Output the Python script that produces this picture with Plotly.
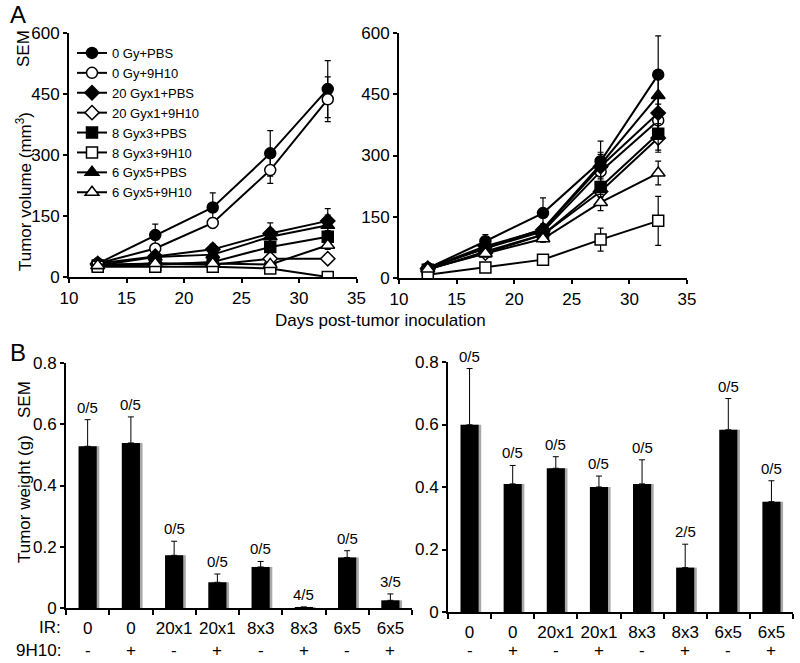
import plotly.graph_objects as go

# ---------------- data ----------------
days = [12.5, 17.5, 22.5, 27.5, 32.5]
group_names = ["0 Gy+PBS", "0 Gy+9H10", "20 Gyx1+PBS", "20 Gyx1+9H10",
               "8 Gyx3+PBS", "8 Gyx3+9H10", "6 Gyx5+PBS", "6 Gyx5+9H10"]
group_symbols = ["circle", "circle", "diamond", "diamond",
                 "square", "square", "triangle-up", "triangle-up"]
group_filled = [True, False, True, False, True, False, True, False]

# left growth panel (tumor volume, mm3) and SEM
L_0_PBS = [33, 103, 171, 304, 462]
L_0_9H10 = [33, 70, 133, 263, 437]
L_20x1_PBS = [33, 51, 68, 107, 138]
L_20x1_9H10 = [30, 33, 30, 45, 45]
L_8x3_PBS = [28, 30, 37, 74, 99]
L_8x3_9H10 = [25, 25, 25, 21, 0]
L_6x5_PBS = [28, 49, 55, 99, 127]
L_6x5_9H10 = [28, 33, 33, 31, 78]
Ls_0_PBS = [0, 27, 36, 56, 70]
Ls_0_9H10 = [0, 10, 12, 33, 55]
Ls_20x1_PBS = [0, 8, 12, 26, 30]
Ls_20x1_9H10 = [0, 4, 4, 8, 6]
Ls_8x3_PBS = [0, 4, 5, 12, 15]
Ls_8x3_9H10 = [0, 3, 3, 3, 0]
Ls_6x5_PBS = [0, 6, 22, 20, 25]
Ls_6x5_9H10 = [0, 4, 4, 5, 10]

# right growth panel
R_0_PBS = [24, 90, 159, 286, 498]
R_0_9H10 = [24, 73, 114, 261, 386]
R_20x1_PBS = [24, 78, 118, 273, 404]
R_20x1_9H10 = [22, 61, 106, 212, 343]
R_8x3_PBS = [20, 65, 106, 223, 353]
R_8x3_9H10 = [8, 26, 45, 94, 140]
R_6x5_PBS = [24, 73, 120, 278, 447]
R_6x5_9H10 = [22, 60, 96, 185, 257]
Rs_0_PBS = [3, 16, 37, 49, 95]
Rs_0_9H10 = [3, 8, 10, 25, 40]
Rs_20x1_PBS = [3, 8, 12, 30, 40]
Rs_20x1_9H10 = [3, 8, 10, 20, 35]
Rs_8x3_PBS = [3, 8, 10, 25, 40]
Rs_8x3_9H10 = [2, 5, 6, 28, 60]
Rs_6x5_PBS = [3, 8, 12, 30, 45]
Rs_6x5_9H10 = [3, 6, 8, 20, 29]

# tumor weight bars
ir_labels = ["0", "0", "20x1", "20x1", "8x3", "8x3", "6x5", "6x5"]
ab_labels = ["-", "+", "-", "+", "-", "+", "-", "+"]
wL = [0.528, 0.539, 0.172, 0.084, 0.134, 0.003, 0.165, 0.025]
eL = [0.087, 0.085, 0.046, 0.027, 0.018, 0.0, 0.022, 0.021]
fracL = ["0/5", "0/5", "0/5", "0/5", "0/5", "4/5", "0/5", "3/5"]
wR = [0.599, 0.410, 0.460, 0.400, 0.410, 0.142, 0.583, 0.353]
eR = [0.180, 0.059, 0.037, 0.035, 0.077, 0.075, 0.100, 0.067]
fracR = ["0/5", "0/5", "0/5", "0/5", "0/5", "2/5", "0/5", "0/5"]

left_vals = [L_0_PBS, L_0_9H10, L_20x1_PBS, L_20x1_9H10, L_8x3_PBS, L_8x3_9H10, L_6x5_PBS, L_6x5_9H10]
left_sems = [Ls_0_PBS, Ls_0_9H10, Ls_20x1_PBS, Ls_20x1_9H10, Ls_8x3_PBS, Ls_8x3_9H10, Ls_6x5_PBS, Ls_6x5_9H10]
right_vals = [R_0_PBS, R_0_9H10, R_20x1_PBS, R_20x1_9H10, R_8x3_PBS, R_8x3_9H10, R_6x5_PBS, R_6x5_9H10]
right_sems = [Rs_0_PBS, Rs_0_9H10, Rs_20x1_PBS, Rs_20x1_9H10, Rs_8x3_PBS, Rs_8x3_9H10, Rs_6x5_PBS, Rs_6x5_9H10]

FONT = "Liberation Sans, Arial, sans-serif"
H = 663.0
W = 800.0


def py(px):
    return 1 - px / H


def pxx(px):
    return px / W


fig = go.Figure()

for panel, (vals, sems, xa, ya) in enumerate([(left_vals, left_sems, "x", "y"),
                                              (right_vals, right_sems, "x2", "y2")]):
    for i, name in enumerate(group_names):
        filled = group_filled[i]
        size = 11 if group_symbols[i] != "triangle-up" else 12
        fig.add_trace(go.Scatter(
            x=days, y=vals[i], name=name, xaxis=xa, yaxis=ya,
            mode="lines+markers",
            showlegend=(panel == 0),
            line=dict(color="black", width=2),
            marker=dict(symbol=group_symbols[i], size=size,
                        color="black" if filled else "white",
                        line=dict(color="black", width=1.5)),
            error_y=dict(type="data", array=sems[i], visible=True,
                         color="black", thickness=1.2, width=3),
        ))

xs = list(range(len(ir_labels)))
for (w, e, xa, ya) in [(wL, eL, "x3", "y3"), (wR, eR, "x4", "y4")]:
    fig.add_trace(go.Bar(
        x=[v + 0.06 for v in xs], y=w, xaxis=xa, yaxis=ya, showlegend=False,
        width=0.42, marker=dict(color="#a8a8a8", line=dict(width=0)), hoverinfo="skip"))
    fig.add_trace(go.Bar(
        x=xs, y=w, xaxis=xa, yaxis=ya, showlegend=False,
        width=0.42, marker=dict(color="black", line=dict(width=0)),
        error_y=dict(type="data", array=e, arrayminus=[0] * len(e), symmetric=False,
                     color="black", thickness=1, width=3),
    ))

fig.update_layout(barmode="overlay")

common_axis = dict(showline=True, linecolor="black", linewidth=2, showgrid=False,
                   zeroline=False, ticks="outside", tickcolor="black", tickwidth=2,
                   automargin=False,
                   ticklen=4, tickfont=dict(family=FONT, size=17, color="black"))

fig.update_layout(
    xaxis=dict(domain=[pxx(69), pxx(356.5)], range=[10, 35], tickvals=[10, 15, 20, 25, 30, 35],
               anchor="y", ticklabelstandoff=1, **common_axis),
    yaxis=dict(domain=[py(277), py(33)], range=[0, 600], tickvals=[0, 150, 300, 450, 600],
               anchor="x", **common_axis),
    xaxis2=dict(domain=[pxx(399), pxx(687)], range=[10, 35], tickvals=[10, 15, 20, 25, 30, 35],
                anchor="y2", ticklabelstandoff=1, **common_axis),
    yaxis2=dict(domain=[py(278), py(33)], range=[0, 600], tickvals=[0, 150, 300, 450, 600],
                anchor="x2", **common_axis),
)

bottom_x_common = dict(showline=True, linecolor="black", linewidth=2, showgrid=False,
                       zeroline=False, range=[-0.5, len(ir_labels) - 0.5], automargin=False,
                       tickmode="array", tickvals=xs, ticktext=ir_labels,
                       ticks="", ticklabelstandoff=4,
                       tickfont=dict(family=FONT, size=17, color="black"),
                       minor=dict(tickmode="array", tickvals=[v - 0.5 for v in xs] + [xs[-1] + 0.5],
                                  ticks="outside", ticklen=5, tickwidth=1.5, tickcolor="black"))
bottom_y_common = dict(showline=True, linecolor="black", linewidth=2, showgrid=False,
                       zeroline=False, range=[0, 0.8], tickvals=[0, 0.2, 0.4, 0.6, 0.8],
                       ticktext=["0", "0.2", "0.4", "0.6", "0.8"], automargin=False,
                       ticks="outside", tickcolor="black", tickwidth=2, ticklen=4,
                       tickfont=dict(family=FONT, size=17, color="black"))

fig.update_layout(
    xaxis3=dict(domain=[pxx(66), pxx(412)], anchor="y3", **bottom_x_common),
    yaxis3=dict(domain=[py(608), py(363)], anchor="x3", **bottom_y_common),
    xaxis4=dict(domain=[pxx(448), pxx(793)], anchor="y4", **bottom_x_common),
    yaxis4=dict(domain=[py(612), py(362)], anchor="x4", **bottom_y_common),
)

ann = []
for (w, e, fr, xa, ya) in [(wL, eL, fracL, "x3", "y3"), (wR, eR, fracR, "x4", "y4")]:
    for i in xs:
        ann.append(dict(x=i, y=w[i] + e[i], xref=xa, yref=ya, text=fr[i], showarrow=False,
                        xanchor="center", yanchor="bottom", yshift=2,
                        font=dict(family=FONT, size=15, color="black")))
    for i in xs:
        ann.append(dict(x=i, y=py(650), xref=xa, yref="paper", text=ab_labels[i], showarrow=False,
                        xanchor="center", yanchor="middle",
                        font=dict(family=FONT, size=17, color="black")))

tf = dict(family=FONT, size=17, color="black")


def pa(x, y, text, font=tf, xanchor="center", angle=0):
    return dict(x=pxx(x), y=py(y), xref="paper", yref="paper", text=text, showarrow=False,
                xanchor=xanchor, yanchor="middle", textangle=angle, font=font)


ann += [
    pa(8, 14, "A", font=dict(family=FONT, size=24, color="black"), xanchor="left"),
    pa(8, 352, "B", font=dict(family=FONT, size=24, color="black"), xanchor="left"),
    pa(24, 49, "SEM", angle=-90),
    pa(24, 192, "Tumor volume (mm<sup>3</sup>)", angle=-90),
    pa(380, 320, "Days post-tumor inoculation"),
    pa(24, 400, "SEM", angle=-90),
    pa(24, 499, "Tumor weight (g)", angle=-90),
    pa(63, 627, "IR:", xanchor="right"),
    pa(63, 650, "9H10:", xanchor="right"),
]

fig.update_layout(
    template="none",
    width=800, height=663, margin=dict(l=0, r=0, t=0, b=0, autoexpand=False),
    paper_bgcolor="white", plot_bgcolor="white",
    font=dict(family=FONT, color="black"),
    showlegend=True,
    legend=dict(x=pxx(72), y=py(38), xanchor="left", yanchor="top",
                bgcolor="rgba(0,0,0,0)", font=dict(family=FONT, size=13, color="black"),
                itemwidth=30, tracegroupgap=0),
    annotations=ann,
)

fig.write_html("out.html", config={"displayModeBar": False},
               post_script="document.body.style.margin='0';document.body.style.overflow='hidden';")
